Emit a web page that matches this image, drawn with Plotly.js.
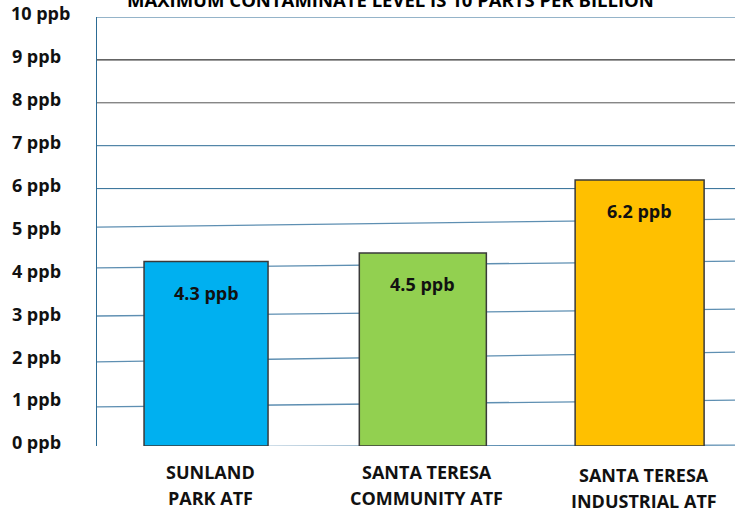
<!DOCTYPE html>
<html>
<head>
<meta charset="utf-8">
<script src="https://cdn.plot.ly/plotly-3.0.1.min.js"></script>
<style>
  html, body { margin: 0; padding: 0; background: #ffffff; }
  #chart { width: 735px; height: 512px; }
</style>
</head>
<body>
<div id="chart"></div>
<script>
// ---- data ----
const categories = ['SUNLAND PARK ATF', 'SANTA TERESA COMMUNITY ATF', 'SANTA TERESA INDUSTRIAL ATF'];
const catLine1 = ['SUNLAND', 'SANTA TERESA', 'SANTA TERESA'];
const catLine2 = ['PARK ATF', 'COMMUNITY ATF', 'INDUSTRIAL ATF'];
const values = [4.3, 4.5, 6.2];
const valueLabels = ['4.3 ppb', '4.5 ppb', '6.2 ppb'];
const tickVals = [0, 1, 2, 3, 4, 5, 6, 7, 8, 9, 10];
const tickLabels = ['0 ppb', '1 ppb', '2 ppb', '3 ppb', '4 ppb', '5 ppb', '6 ppb', '7 ppb', '8 ppb', '9 ppb', '10 ppb'];
const titleText = 'MAXIMUM CONTAMINATE LEVEL IS 10 PARTS PER BILLION';

// ---- styles ----
const barColors = ['#00B0F0', '#92D050', '#FFC000'];
const FONT = '"Open Sans", "Liberation Sans", sans-serif';
const TEAL = '#2C6B94';
const TEAL_LIGHT = '#5E8FB2';

// left-align tick labels by padding with non-breaking spaces
const paddedTicks = tickLabels.map(t => t.length < 6 ? t + '\u00a0\u00a0' : t);

// decorative gridlines (the original picture has slightly tilted lower gridlines)
const gridTilt = { 0: [-0.02, 0.02], 1: [-0.09, 0.07], 2: [-0.04, 0.19], 3: [0.03, 0.19], 4: [0.15, 0.31], 5: [0.10, 0.29] };
const shapes = [];
tickVals.forEach(v => {
  const t = gridTilt[v] || [0, 0];
  let color = TEAL, width = 1;
  if (v === 9) { color = '#000000'; }
  else if (v === 8) { color = '#555555'; }
  else if (v <= 5) { color = TEAL_LIGHT; width = 1.3; }
  shapes.push({
    type: 'line', layer: 'below', xref: 'paper', yref: 'y',
    x0: 0, x1: 1, y0: v + t[0], y1: v + t[1],
    line: { color: color, width: width }
  });
});

const annotations = [];
// title (cut off at the top of the picture, as in the original)
annotations.push({
  xref: 'paper', yref: 'paper', x: 0.46, y: 1, yshift: 18, xanchor: 'center', yanchor: 'middle',
  text: '<b>' + titleText + '</b>', showarrow: false,
  font: { family: FONT, size: 18.5, color: '#000000' }
});
// value labels inside bars and two-line category labels
categories.forEach((c, i) => {
  annotations.push({
    x: c, y: values[i], xref: 'x', yref: 'y', yshift: -31, yanchor: 'middle',
    text: '<b>' + valueLabels[i] + '</b>', showarrow: false,
    font: { family: FONT, size: 18, color: '#111111' }
  });
  const extra = i === 2 ? -3 : 0;
  annotations.push({
    x: c, y: 0, xref: 'x', yref: 'paper', yshift: -26 + extra, xshift: 4, yanchor: 'middle',
    text: '<b>' + catLine1[i] + '</b>', showarrow: false,
    font: { family: FONT, size: 18, color: '#111111' }
  });
  annotations.push({
    x: c, y: 0, xref: 'x', yref: 'paper', yshift: -52 + extra, xshift: 4, yanchor: 'middle',
    text: '<b>' + catLine2[i] + '</b>', showarrow: false,
    font: { family: FONT, size: 18, color: '#111111' }
  });
});

const trace = {
  type: 'bar',
  x: categories,
  y: values,
  width: [0.572, 0.586, 0.595],
  marker: { color: barColors, line: { color: '#3A3A3A', width: 1.5 } },
  hoverinfo: 'x+y'
};

const layout = {
  width: 735, height: 512,
  margin: { l: 97, r: 0, t: 17, b: 66, pad: 0 },
  paper_bgcolor: '#ffffff', plot_bgcolor: '#ffffff',
  showlegend: false,
  xaxis: {
    type: 'category', range: [-0.503, 2.44],
    showticklabels: false, ticks: '', showgrid: false, zeroline: false,
    showline: false, fixedrange: true
  },
  yaxis: {
    range: [0, 10], tickvals: tickVals, ticktext: paddedTicks,
    ticks: '', showgrid: false, zeroline: false,
    showline: true, linecolor: TEAL, linewidth: 1,
    ticklabelstandoff: 22, ticklabelshift: -3,
    tickfont: { family: FONT, size: 18, color: '#111111', weight: 'bold' },
    fixedrange: true
  },
  shapes: shapes,
  annotations: annotations,
  bargap: 0.4
};

Plotly.newPlot('chart', [trace], layout, { displayModeBar: false, staticPlot: true });
</script>
</body>
</html>
